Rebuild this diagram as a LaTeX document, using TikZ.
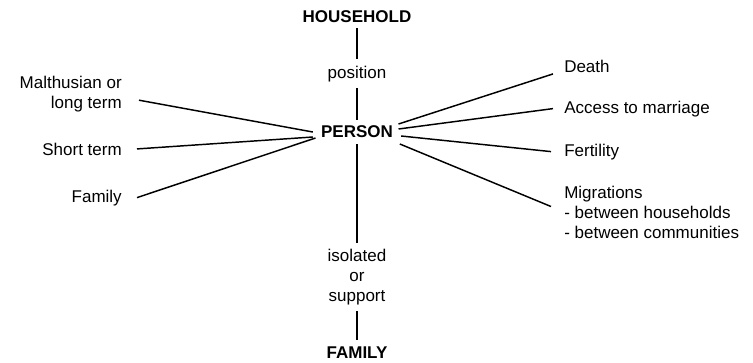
\documentclass[tikz,border=0pt]{standalone}
\usepackage{fontspec}
\setmainfont{Liberation Sans}
\usetikzlibrary{positioning}

\begin{document}
\begin{tikzpicture}[
  x=0.75pt, y=-0.75pt,
  every node/.style={font=\fontsize{12.75}{15}\selectfont},
  key/.style={font=\fontsize{12.75}{15}\selectfont\bfseries, inner xsep=6pt, inner ysep=4.5pt},
  mid/.style={inner sep=4.5pt, align=center},
  lbl/.style={inner sep=0pt},
  link/.style={line width=1.1pt}
]
\useasboundingbox (0,0) rectangle (753,362);

\node[key, anchor=base] (household) at (357,22) {HOUSEHOLD};
\node[mid, anchor=base] (position) at (357,78) {position};
\node[key] (person) at (357,132) {PERSON};
\node[mid, anchor=north] (isolated) at (357,243) {isolated\\or\\support};
\node[key, anchor=base] (family) at (357,358) {FAMILY};

\node[lbl, align=right, anchor=north east] (malthus) at (122,76) {Malthusian or\\long term};
\node[lbl, anchor=base east] (shortterm) at (122,155) {Short term};
\node[lbl, anchor=base east] (familylbl) at (122,202) {Family};

\node[lbl, anchor=base west] (death) at (564,72) {Death};
\node[lbl, anchor=base west] (marriage) at (564,113) {Access to marriage};
\node[lbl, anchor=base west] (fertility) at (564,156) {Fertility};
\node[lbl, align=left, anchor=north west] (migration) at (564,186) {Migrations\\- between households\\- between communities};

\draw[link] (household) -- (position);
\draw[link] (position) -- (person);
\draw[link] (person) -- (isolated);
\draw[link] (isolated) -- (family);

\draw[link] ([xshift=12.75pt,yshift=-4.5pt]malthus.east) -- (person.west);
\draw[link] ([xshift=11.25pt]shortterm.east) -- ([yshift=-3.75pt]person.west);
\draw[link] ([xshift=11.25pt]familylbl.east) -- ([xshift=2pt,yshift=-4.5pt]person.west);

\draw[link] ([xshift=-2pt,yshift=6pt]person.east) -- ([xshift=-8.25pt,yshift=-6pt]death.west);
\draw[link] ([xshift=-2pt,yshift=2.25pt]person.east) -- ([xshift=-8.25pt]marriage.west);
\draw[link] ([yshift=-3pt]person.east) -- ([xshift=-9.75pt]fertility.west);
\draw[link] ([xshift=-1pt,yshift=-9pt]person.east) -- ([xshift=-9.75pt,yshift=4.5pt]migration.west);
\end{tikzpicture}
\end{document}
